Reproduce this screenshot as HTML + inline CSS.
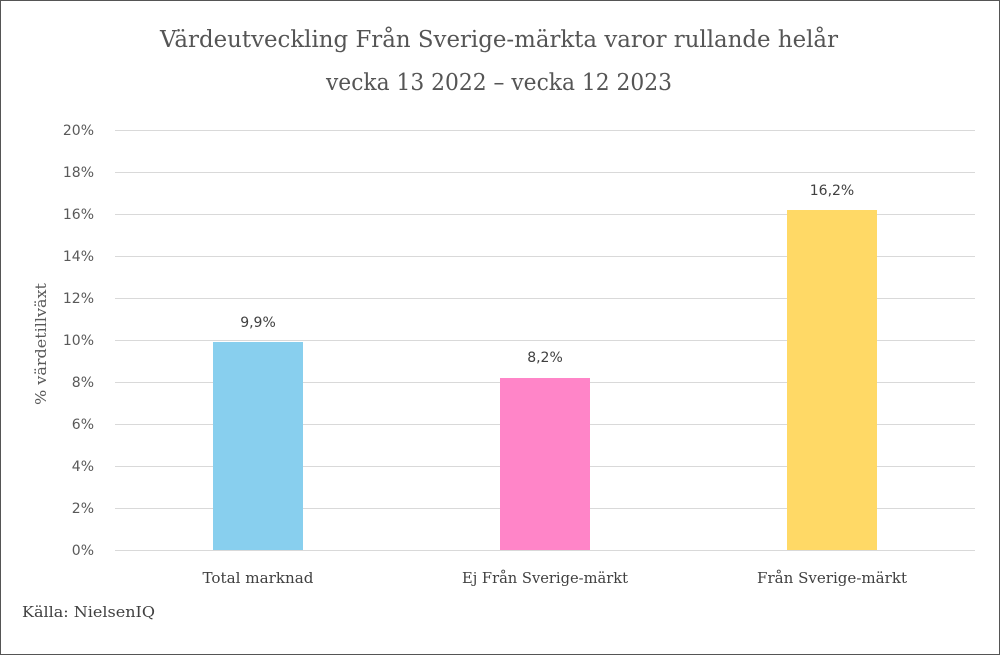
<!DOCTYPE html>
<html><head><meta charset="utf-8"><style>
body{margin:0;background:#fff}
</style></head><body>
<svg width="1000" height="655" xmlns="http://www.w3.org/2000/svg">
<rect x="0.5" y="0.5" width="999" height="654" fill="#fff" stroke="#555" stroke-width="1"/>
<g font-family="DejaVu Serif, serif" fill="#555" text-anchor="middle" font-size="23">
<text x="499" y="47" textLength="678" lengthAdjust="spacingAndGlyphs">Värdeutveckling Från Sverige-märkta varor rullande helår</text>
<text x="499" y="90" textLength="346" lengthAdjust="spacingAndGlyphs">vecka 13 2022 – vecka 12 2023</text>
</g>
<g stroke="#d9d9d9" stroke-width="1">
<line x1="115" x2="975" y1="130.5" y2="130.5"/>
<line x1="115" x2="975" y1="172.5" y2="172.5"/>
<line x1="115" x2="975" y1="214.5" y2="214.5"/>
<line x1="115" x2="975" y1="256.5" y2="256.5"/>
<line x1="115" x2="975" y1="298.5" y2="298.5"/>
<line x1="115" x2="975" y1="340.5" y2="340.5"/>
<line x1="115" x2="975" y1="382.5" y2="382.5"/>
<line x1="115" x2="975" y1="424.5" y2="424.5"/>
<line x1="115" x2="975" y1="466.5" y2="466.5"/>
<line x1="115" x2="975" y1="508.5" y2="508.5"/>
<line x1="115" x2="975" y1="550.5" y2="550.5"/>
</g>
<g font-family="DejaVu Sans, sans-serif" font-size="14" fill="#595959" text-anchor="end">
<text x="94" y="135">20%</text><text x="94" y="177">18%</text><text x="94" y="219">16%</text>
<text x="94" y="261">14%</text><text x="94" y="303">12%</text><text x="94" y="345">10%</text>
<text x="94" y="387">8%</text><text x="94" y="429">6%</text><text x="94" y="471">4%</text>
<text x="94" y="513">2%</text><text x="94" y="555">0%</text>
</g>
<text transform="translate(46,344) rotate(-90)" font-family="DejaVu Serif, serif" font-size="15" fill="#595959" text-anchor="middle" textLength="122" lengthAdjust="spacingAndGlyphs">% värdetillväxt</text>
<rect x="213" y="342" width="90" height="208" fill="#88CFEE"/>
<rect x="500" y="378" width="90" height="172" fill="#FF85C8"/>
<rect x="787" y="210" width="90" height="340" fill="#FFD966"/>
<g font-family="DejaVu Sans, sans-serif" font-size="14" fill="#404040" text-anchor="middle">
<text x="258" y="327">9,9%</text><text x="545" y="362">8,2%</text><text x="832" y="195">16,2%</text>
</g>
<g font-family="DejaVu Serif, serif" font-size="15" fill="#404040" text-anchor="middle">
<text x="258" y="583" textLength="111" lengthAdjust="spacingAndGlyphs">Total marknad</text>
<text x="545" y="583" textLength="166" lengthAdjust="spacingAndGlyphs">Ej Från Sverige-märkt</text>
<text x="832" y="583" textLength="150" lengthAdjust="spacingAndGlyphs">Från Sverige-märkt</text>
</g>
<text x="22" y="617" font-family="DejaVu Serif, serif" font-size="15" fill="#404040" textLength="133" lengthAdjust="spacingAndGlyphs">Källa: NielsenIQ</text>
</svg>
</body></html>
